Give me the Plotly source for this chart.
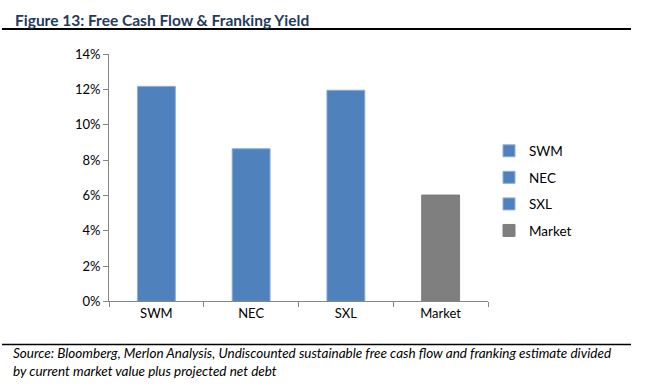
import plotly.graph_objects as go

categories = ["SWM", "NEC", "SXL", "Market"]
values = [0.1217, 0.0864, 0.1195, 0.0602]
colors = ["#4F81BD", "#4F81BD", "#4F81BD", "#7F7F7F"]
line_colors = ["#8FAEDB", "#8FAEDB", "#8FAEDB", "#7F7F7F"]
y_ticks = [0, 0.02, 0.04, 0.06, 0.08, 0.10, 0.12, 0.14]
y_tick_labels = ["0%", "2%", "4%", "6%", "8%", "10%", "12%", "14%"]

title_text = "Figure 13: Free Cash Flow & Franking Yield"
source_text = ("Source: Bloomberg, Merlon Analysis, Undiscounted sustainable free cash flow and franking estimate divided"
               "<br>by current market value plus projected net debt")

W, H = 645, 389
FONT = "Lato, 'Liberation Sans', sans-serif"

fig = go.Figure()
for i, (c, v) in enumerate(zip(categories, values)):
    fig.add_trace(go.Bar(
        x=[c], y=[v], name=c,
        marker=dict(color=colors[i], line=dict(color=line_colors[i], width=1)),
        width=0.4, legendgroup=c,
    ))

def px_x(x):
    return x / W

def px_y(y):
    return 1 - y / H

fig.update_layout(
    width=W, height=H,
    margin=dict(l=0, r=0, t=0, b=0),
    paper_bgcolor="white", plot_bgcolor="white",
    barmode="overlay",
    font=dict(family=FONT, size=13, color="#000000"),
    showlegend=True,
    legend=dict(
        x=px_x(489), y=px_y(133), xanchor="left", yanchor="top",
        font=dict(size=13.5, color="#000000"),
        tracegroupgap=6, itemwidth=30,
        bgcolor="rgba(0,0,0,0)",
    ),
    xaxis=dict(
        domain=[px_x(109), px_x(488)],
        categoryorder="array", categoryarray=categories,
        showline=True, linecolor="#868686", linewidth=1,
        ticks="outside", ticklen=5, tickcolor="#868686",
        tickson="boundaries",
        showgrid=False, zeroline=False,
        tickfont=dict(size=13, color="#000000"),
        fixedrange=True,
    ),
    yaxis=dict(
        domain=[px_y(306), px_y(48)],
        range=[0, 0.14],
        tickvals=y_ticks, ticktext=y_tick_labels,
        showline=True, linecolor="#868686", linewidth=1,
        ticks="outside", ticklen=5, tickcolor="#868686",
        showgrid=False, zeroline=False,
        tickfont=dict(size=13, color="#000000"),
        fixedrange=True,
    ),
    shapes=[
        dict(type="line", xref="paper", yref="paper",
             x0=px_x(2), x1=px_x(631), y0=px_y(22), y1=px_y(22),
             line=dict(color="#000000", width=2)),
        dict(type="line", xref="paper", yref="paper",
             x0=px_x(2), x1=px_x(631), y0=px_y(351), y1=px_y(351),
             line=dict(color="#000000", width=1.5)),
    ],
    annotations=[
        dict(text="<b>" + title_text + "</b>", xref="paper", yref="paper",
             x=px_x(13), y=px_y(12), xanchor="left", yanchor="middle",
             showarrow=False, font=dict(family=FONT, size=15.5, color="#1F3B5C")),
        dict(text="<i>" + source_text + "</i>", xref="paper", yref="paper",
             x=px_x(11), y=px_y(369), xanchor="left", yanchor="middle",
             align="left", showarrow=False,
             font=dict(family=FONT, size=13.5, color="#000000")),
    ],
)

fig.write_html(
    "out.html", config={"displayModeBar": False},
    post_script=(
        "document.documentElement.style.margin='0';"
        "document.body.style.margin='0';document.body.style.overflow='hidden';"
        "var d=document.getElementById('{plot_id}');"
        "d.style.position='fixed';d.style.top='0px';d.style.left='0px';"
    ),
)
